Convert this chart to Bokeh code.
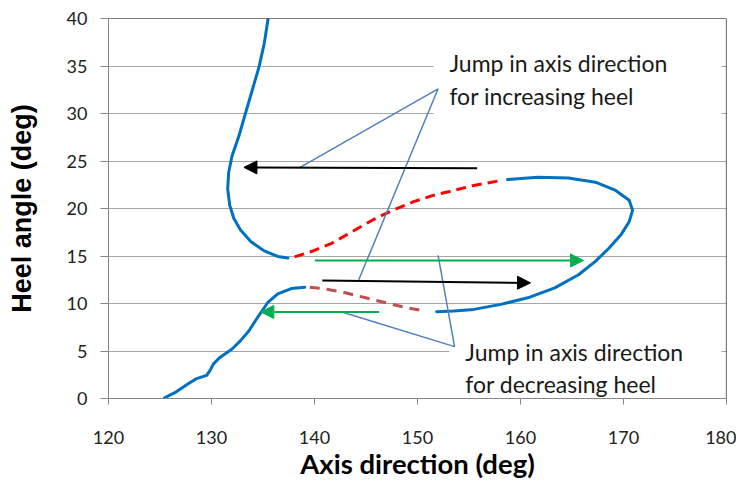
from bokeh.plotting import figure
from bokeh.models import Arrow, NormalHead, Label, BoxAnnotation, Span, FixedTicker
from bokeh.embed import file_html
from bokeh.resources import INLINE

# ---- data ----
# lower branch, rising heel (blue solid)
rise_low_x = [125.44, 126.58, 127.74, 128.55, 129.53, 129.86, 130.19, 130.85, 132.0, 132.82,
              133.64, 134.46, 135.45, 136.43, 137.74, 139.05]
rise_low_y = [0.07, 0.70, 1.56, 2.09, 2.44, 2.96, 3.65, 4.35, 5.21, 6.09,
              7.13, 8.52, 10.08, 11.02, 11.57, 11.72]
# lower jump (brown dashed)
jump_low_x = [139.54, 141.02, 142.99, 144.96, 146.93, 148.9, 150.7]
jump_low_y = [11.72, 11.54, 11.13, 10.6, 10.08, 9.56, 9.22]
# right loop (blue solid)
loop_x = [151.86, 153.5, 155.46, 158.09, 160.71, 163.33, 165.63, 167.27, 168.58, 169.73,
          170.55, 170.88, 170.55, 169.24, 167.27, 164.65, 161.69, 158.74]
loop_y = [9.14, 9.22, 9.38, 9.91, 10.6, 11.65, 13.03, 14.43, 15.82, 17.2,
          18.6, 19.81, 20.86, 21.9, 22.77, 23.22, 23.3, 23.05]
# upper jump (red dashed)
jump_up_x = [157.76, 155.46, 153.5, 151.52, 149.55, 147.58, 145.61, 143.65, 141.68, 139.7, 137.9]
jump_up_y = [22.88, 22.42, 21.9, 21.38, 20.69, 19.81, 18.77, 17.56, 16.34, 15.47, 14.85]
# upper branch (blue solid)
upper_x = [137.42, 136.43, 135.12, 133.81, 132.82, 132.17, 131.77, 131.57, 131.67, 132.0,
           132.66, 133.31, 133.97, 134.62, 135.12, 135.51]
upper_y = [14.78, 14.95, 15.54, 16.52, 17.73, 18.95, 20.33, 22.08, 23.82, 25.55,
           27.63, 30.07, 32.5, 34.93, 37.37, 40.08]

# arrows: (x_start, y_start, x_end, y_end)
black_arrows = [(155.79, 24.23, 133.15, 24.33), (140.76, 12.41, 160.97, 12.17)]
green_arrows = [(140.04, 14.53, 166.12, 14.53), (146.27, 9.11, 134.79, 9.11)]

# callout leader lines
callout_inc_x = [138.56, 152.0, 144.3]
callout_inc_y = [24.3, 32.6, 12.5]
callout_dec_x = [142.66, 153.6, 152.0]
callout_dec_y = [9.11, 5.46, 15.06]

note_inc = ["Jump in axis direction", "for increasing heel"]
note_dec = ["Jump in axis direction", "for decreasing heel"]

x_ticks = [120, 130, 140, 150, 160, 170, 180]
y_ticks = [0, 5, 10, 15, 20, 25, 30, 35, 40]

BLUE = "#0070C0"
RED = "#FF0000"
BROWN = "#C0504D"
GREEN = "#00B050"
CALLOUT = "#4F81BD"

p = figure(width=736, height=482, x_range=(120, 180), y_range=(0, 40),
           output_backend="svg", toolbar_location=None,
           min_border_left=108, min_border_right=10, min_border_top=18, min_border_bottom=80)

p.outline_line_color = None
p.background_fill_color = "white"
p.xgrid.grid_line_color = None
p.ygrid.grid_line_color = "#A6A6A6"
p.ygrid.grid_line_width = 1
p.ygrid.ticker = FixedTicker(ticks=y_ticks)

p.xaxis.ticker = FixedTicker(ticks=x_ticks)
p.yaxis.ticker = FixedTicker(ticks=y_ticks)
for ax in (p.xaxis[0], p.yaxis[0]):
    ax.axis_line_color = "#868686"
    ax.major_tick_line_color = "#868686"
    ax.minor_tick_line_color = None
    ax.major_tick_in = 0
    ax.major_label_text_font = "Lato"
    ax.major_label_text_font_size = "18px"
    ax.major_label_text_color = "#222222"
    ax.axis_label_text_font_style = "bold"
    ax.axis_label_text_color = "black"

p.xaxis.major_tick_out = 6
p.yaxis.major_tick_out = 8
p.xaxis.major_label_standoff = 26
p.yaxis.major_label_standoff = 13
p.xaxis.axis_label = "Axis direction (deg)"
p.xaxis.axis_label_text_font = "Lato"
p.xaxis.axis_label_text_font_size = "27.5px"
p.xaxis.axis_label_standoff = 0
p.yaxis.axis_label = "Heel angle (deg)"
p.yaxis.axis_label_text_font = "Liberation Sans"
p.yaxis.axis_label_text_font_size = "27px"
p.yaxis.axis_label_standoff = 27

# top and right frame borders
p.add_layout(Span(location=40, dimension="width", line_color="black", line_width=1.2))
p.add_layout(Span(location=180, dimension="height", line_color="black", line_width=1.2))

# white text boxes that interrupt grid lines
p.add_layout(BoxAnnotation(left=151.55, right=179.5, bottom=29.3, top=37.6,
                           fill_color="white", fill_alpha=1, line_color=None, level="underlay"))
p.add_layout(BoxAnnotation(left=153.1, right=179.5, bottom=2.6, top=7.8,
                           fill_color="white", fill_alpha=1, line_color=None, level="underlay"))

# curves
kw = dict(line_width=3, line_join="round", line_cap="round")
p.line(rise_low_x, rise_low_y, line_color=BLUE, **kw)
p.line(jump_low_x, jump_low_y, line_color=BROWN, line_dash="10 7", line_width=3, line_join="round")
p.line(loop_x, loop_y, line_color=BLUE, **kw)
p.line(jump_up_x, jump_up_y, line_color=RED, line_dash="10 6", line_width=3, line_join="round")
p.line(upper_x, upper_y, line_color=BLUE, **kw)

# callouts
p.line(callout_inc_x, callout_inc_y, line_color=CALLOUT, line_width=1.5)
p.line(callout_dec_x, callout_dec_y, line_color=CALLOUT, line_width=1.5)

# arrows
for (xs, ys, xe, ye) in black_arrows:
    p.add_layout(Arrow(end=NormalHead(size=13, fill_color="black", line_color="black"),
                       x_start=xs, y_start=ys, x_end=xe, y_end=ye,
                       line_color="black", line_width=2))
for (xs, ys, xe, ye) in green_arrows:
    p.add_layout(Arrow(end=NormalHead(size=13, fill_color=GREEN, line_color=GREEN),
                       x_start=xs, y_start=ys, x_end=xe, y_end=ye,
                       line_color=GREEN, line_width=2))

# notes
for txt, yy in zip(note_inc, [35.3, 31.85]):
    p.add_layout(Label(x=153.1, y=yy, text=txt, text_font="Lato", text_font_size="23px",
                       text_color="#1a1a1a", text_baseline="alphabetic"))
for txt, yy in zip(note_dec, [4.87, 1.56]):
    p.add_layout(Label(x=154.64, y=yy, text=txt, text_font="Lato", text_font_size="23px",
                       text_color="#1a1a1a", text_baseline="alphabetic"))

open("out.html", "w").write(file_html(p, INLINE))
